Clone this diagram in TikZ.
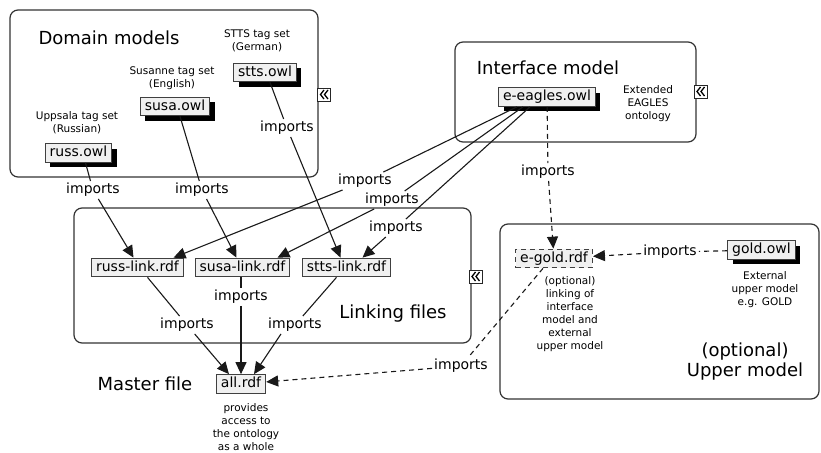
\documentclass[tikz,border=0pt]{standalone}
\usepackage{fontspec}
\setmainfont{DejaVu Sans}
\usetikzlibrary{arrows.meta,shadows}
\begin{document}
\begin{tikzpicture}[x=1pt,y=-1pt,
  frame/.style={draw=black!80,line width=1.2pt,rounded corners=8pt},
  filebox/.style={draw=black!75,fill=black!6,line width=1.2pt,font=\fontsize{14}{16}\selectfont,inner xsep=4.5pt,inner ysep=2.5pt,text height=10.5pt,text depth=3pt},
  shadowed/.style={filebox,drop shadow={shadow xshift=5pt,shadow yshift=-5pt,opacity=1,fill=black}},
  imp/.style={font=\fontsize{14}{16}\selectfont,inner sep=2pt},
  title/.style={font=\fontsize{18}{20}\selectfont,align=center},
  note/.style={font=\fontsize{10.5}{13}\selectfont,align=center,inner sep=1pt},
  conn/.style={draw=black!90,line width=1.1pt},
  arr/.style={conn,-{Triangle[length=12pt,width=11pt]}},
  dsh/.style={dash pattern=on 5pt off 4pt},
  collapse/.pic={\draw[fill=white,line width=0.9pt,draw=black!85] (-6.5,-6.5) rectangle (6.5,6.5);
    \draw[line width=1.3pt] (0,-4.5)--(-3.5,0)--(0,4.5) (4,-4.5)--(0.5,0)--(4,4.5);}
]
\useasboundingbox (0,0) rectangle (821,452);

% frames
\draw[frame] (10,10) rectangle (318,177);
\draw[frame] (455,42) rectangle (696,142);
\draw[frame] (74,208) rectangle (471,343);
\draw[frame] (500,224) rectangle (819,399);

\pic at (324,94.5) {collapse};
\pic at (700.5,91.5) {collapse};
\pic at (475.5,276.5) {collapse};

% titles
\node[title] (tdom) at (109,38) {Domain models};
\node[title] (tint) at (548,68) {Interface model};
\node[title] (tlink) at (393,314) {Linking files};
\node[title] (tmaster) at (145,384) {Master file};
\node[title] (tupper) at (745,362) {(optional)\\Upper model};

% notes
\node[note] (nstts) at (257,40.5) {STTS tag set\\(German)};
\node[note] (nsusa) at (172,78.5) {Susanne tag set\\(English)};
\node[note] (nruss) at (77,122.5) {Uppsala tag set\\(Russian)};
\node[note] (next) at (648,104) {Extended\\EAGLES\\ontology};
\node[note] (nall) at (246,427.5) {provides\\access to\\the ontology\\as a whole};
\node[note] (ngold) at (765,290) {External\\upper model\\e.g. GOLD};
\node[note] (negold) at (570,314.5) {(optional)\\linking of\\interface\\model and\\external\\upper model};

% file boxes
\node[shadowed] (sttsowl) at (265,72.5) {stts.owl};
\node[shadowed] (susaowl) at (175,106.5) {susa.owl};
\node[shadowed] (russowl) at (78.5,153) {russ.owl};
\node[shadowed] (eagles) at (547,97) {e-eagles.owl};
\node[shadowed] (goldowl) at (761.5,250) {gold.owl};
\node[filebox] (russlink) at (137.5,267.5) {russ-link.rdf};
\node[filebox] (susalink) at (242.5,267.5) {susa-link.rdf};
\node[filebox] (sttslink) at (346.5,267.5) {stts-link.rdf};
\node[filebox] (allrdf) at (241,384) {all.rdf};
\node[filebox,dsh] (egold) at (554,258.5) {e-gold.rdf};

% import labels
\node[imp] (imp1) at (93,190) {imports};
\node[imp] (imp2) at (202,190) {imports};
\node[imp] (imp3) at (287,128) {imports};
\node[imp] (imp4) at (365,181) {imports};
\node[imp] (imp5) at (392,200) {imports};
\node[imp] (imp6) at (396,228) {imports};
\node[imp] (imp7) at (187,325) {imports};
\node[imp] (imp8) at (241,297) {imports};
\node[imp] (imp9) at (295,325) {imports};
\node[imp] (imp10) at (548,172) {imports};
\node[imp] (imp11) at (670,252) {imports};
\node[imp] (imp12) at (461,366) {imports};

% domain -> linking
\draw[conn] ([xshift=7pt]russowl.south) -- (imp1);
\draw[arr] (imp1) -- ([xshift=-4pt]russlink.north);
\draw[conn] ([xshift=5pt]susaowl.south) -- (imp2);
\draw[arr] (imp2) -- ([xshift=-6pt]susalink.north);
\draw[conn] ([xshift=5pt]sttsowl.south) -- (imp3);
\draw[arr] (imp3) -- ([xshift=-6pt]sttslink.north);

% interface -> linking
\draw[conn] ([xshift=-30pt]eagles.south) -- (imp4);
\draw[arr] (imp4) -- ([xshift=36pt]russlink.north);
\draw[conn] ([xshift=-24pt]eagles.south) -- (imp5);
\draw[arr] (imp5) -- ([xshift=35pt]susalink.north);
\draw[conn] ([xshift=-17pt]eagles.south) -- (imp6);
\draw[arr] (imp6) -- ([xshift=16pt]sttslink.north);

% linking -> master
\draw[conn] ([xshift=10pt]russlink.south) -- (imp7);
\draw[arr] (imp7) -- ([xshift=-12pt]allrdf.north);
\draw[conn] (susalink.south -| imp8) -- (imp8);
\draw[arr] (imp8) -- (allrdf);
\draw[conn] ([xshift=-10pt]sttslink.south) -- (imp9);
\draw[arr] ([xshift=-14pt]imp9.south) -- ([xshift=13pt]allrdf.north);

% optional upper model
\draw[conn,dsh] (eagles) -- (imp10);
\draw[arr,dsh] (imp10) -- (egold);
\draw[conn,dsh] (goldowl) -- (imp11);
\draw[arr,dsh] (imp11) -- (egold);
\draw[conn,dsh] ([xshift=-11pt]egold.south) -- (imp12);
\draw[arr,dsh] (imp12) -- (allrdf);
\end{tikzpicture}
\end{document}
